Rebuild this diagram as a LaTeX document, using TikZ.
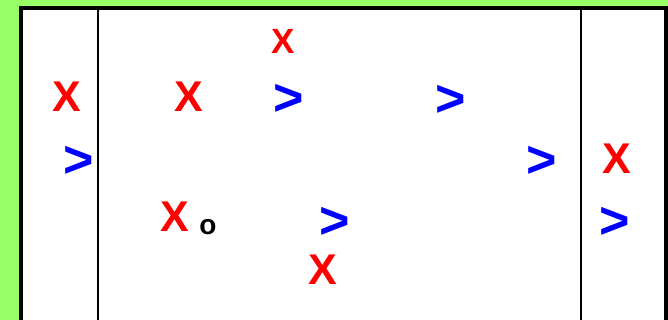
\documentclass[tikz,border=0pt]{standalone}
\usepackage{fontspec}
\setmainfont{Liberation Sans}
\usepackage{tikz}
\usetikzlibrary{positioning}
\definecolor{mygreen}{RGB}{153,255,102}
\definecolor{myred}{RGB}{255,0,0}
\definecolor{myblue}{RGB}{0,0,255}
\definecolor{mydark}{RGB}{0,0,0}
\tikzset{
  cross/.style={inner sep=0pt, text=myred,
    font=\bfseries\fontsize{43}{43}\selectfont},
  smallcross/.style={inner sep=0pt, text=myred,
    font=\bfseries\fontsize{35}{35}\selectfont},
  gt/.style={inner sep=0pt, text=myblue,
    font=\bfseries\fontsize{52}{52}\selectfont},
  ball/.style={inner sep=0pt, text=mydark,
    font=\bfseries\fontsize{28}{28}\selectfont},
  frame/.style={line width=4pt, color=mydark},
  divider/.style={line width=2.5pt, color=mydark}
}

\begin{document}
\begin{tikzpicture}[x=1pt, y=-1pt]
  \useasboundingbox (0,0) rectangle (668,320);
  \clip (0,0) rectangle (668,320);
  % Field
  \fill[mygreen] (0,0) rectangle (668,320);
  \fill[white] (21,8) rectangle (666,330);
  \draw[frame] (21,330) -- (21,8) -- (666,8) -- (666,330);
  \draw[divider] (98,8) -- (98,330);
  \draw[divider] (581,8) -- (581,330);

  % Crosses
  \node[smallcross] (X0) at (283,41) {X};
  \node[cross] (X1) at (67,97) {X};
  \node[cross] (X2) at (189,97) {X};
  \node[cross] (X3) at (617,159) {X};
  \node[cross] (X4) at (175,217) {X};
  \node[cross] (X5) at (323,270) {X};

  % Arrows
  \node[gt] (G0) at (289,100) {>};
  \node[gt] (G1) at (451,101) {>};
  \node[gt] (G2) at (79,162) {>};
  \node[gt] (G3) at (542,162) {>};
  \node[gt] (G4) at (335,223) {>};
  \node[gt] (G5) at (615,223) {>};

  % Ball
  \node[ball] (O0) at (208,227) {o};
\end{tikzpicture}
\end{document}
